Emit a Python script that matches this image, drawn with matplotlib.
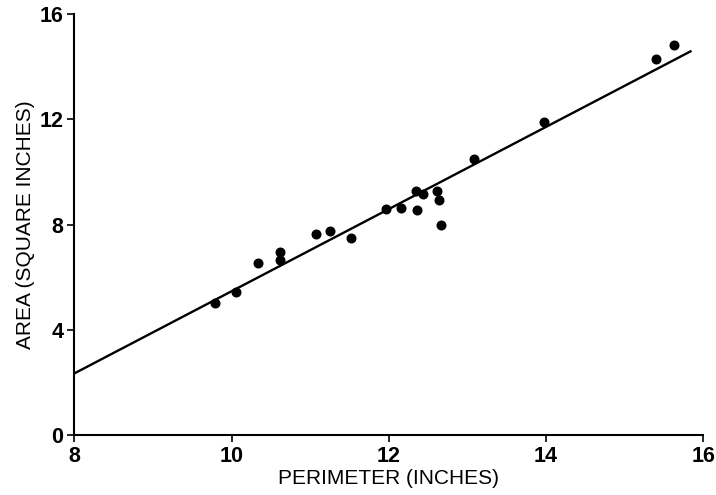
import matplotlib
matplotlib.use("Agg")
import matplotlib.pyplot as plt

# perimeter (in) vs area (sq in)
perimeter = [9.79, 10.06, 10.33, 10.61, 10.61, 11.07, 11.25, 11.52, 11.97, 12.15,
             12.34, 12.44, 12.36, 12.61, 12.64, 12.66, 13.08, 13.97, 15.40, 15.63]
area = [5.01, 5.45, 6.55, 6.94, 6.65, 7.64, 7.75, 7.48, 8.58, 8.64,
        9.29, 9.17, 8.56, 9.27, 8.94, 7.97, 10.48, 11.90, 14.28, 14.82]
# fitted line end points
fit_x = [8.0, 15.85]
fit_y = [2.34, 14.60]

xticks = [8, 10, 12, 14, 16]
yticks = [0, 4, 8, 12, 16]

plt.rcParams.update({"font.family": "Liberation Sans", "font.size": 14})

fig = plt.figure(figsize=(7.16, 4.95), dpi=100)
ax = fig.add_axes([0.1038, 0.1212, 0.8785, 0.8505])

ax.plot(fit_x, fit_y, color="black", lw=1.7, solid_capstyle="butt")
ax.plot(perimeter, area, "o", color="black", ms=6.2)

ax.set_xlim(8, 16)
ax.set_ylim(0, 16)
ax.set_xticks(xticks)
ax.set_yticks(yticks)
ax.tick_params(direction="out", length=5, width=1.2, labelsize=15.5, pad=3)
for lab in ax.get_xticklabels() + ax.get_yticklabels():
    lab.set_fontweight("bold")
for sp in ("top", "right"):
    ax.spines[sp].set_visible(False)
for sp in ("left", "bottom"):
    ax.spines[sp].set_linewidth(1.5)

ax.set_xlabel("PERIMETER (INCHES)", fontsize=15, labelpad=1)
ax.set_ylabel("AREA (SQUARE INCHES)", fontsize=15)
ax.yaxis.set_label_coords(-0.062, 0.5)

fig.savefig("out.png", dpi=100)
